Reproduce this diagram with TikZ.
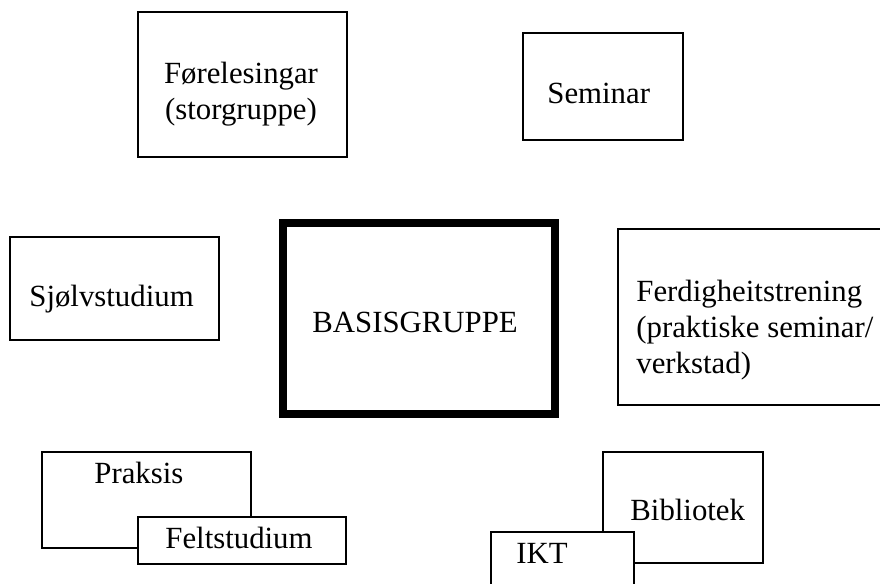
\documentclass[tikz,border=0pt]{standalone}
\usepackage{fontspec}
\setmainfont{Liberation Serif}
\tikzset{
  box/.style={draw=black, line width=0.8pt},
  thickbox/.style={draw=black, line width=4pt},
  lbl/.style={inner sep=0pt, anchor=base west, font=\fontsize{15.4}{18}\selectfont},
}
\begin{document}
\begin{tikzpicture}[x=0.5pt,y=-0.5pt]
  \clip (0,0) rectangle (880,584);
  \fill[white] (0,0) rectangle (880,584);

  % top row
  \draw[box] (138,12) rectangle (347,157);
  \node[lbl, anchor=base, align=center] (forel) at (241,119) {Førelesingar\\(storgruppe)};
  \draw[box] (523,33) rectangle (683,140);
  \node[lbl] (seminar) at (547,103) {Seminar};

  % middle row
  \draw[box] (10,237) rectangle (219,340);
  \node[lbl] (sjolv) at (29,306) {Sjølvstudium};
  \draw[thickbox] (282.5,222.5) rectangle (555,414);
  \node[lbl] (basis) at (312,332) {BASISGRUPPE};
  \draw[box] (618,229) rectangle (890,405);
  \node[lbl, align=left] (ferd) at (636,373) {Ferdigheitstrening\\(praktiske seminar/\\verkstad)};

  % bottom row, overlapping boxes
  \draw[box] (42,452) rectangle (251,548);
  \node[lbl] (praksis) at (94,483) {Praksis};
  \filldraw[box, fill=white] (138,517) rectangle (346,564);
  \node[lbl] (felt) at (165,548) {Feltstudium};

  \draw[box] (603,452) rectangle (763,563);
  \node[lbl] (bibl) at (630,520) {Bibliotek};
  \filldraw[box, fill=white] (491,532) rectangle (634,600);
  \node[lbl] (ikt) at (516,563) {IKT};
\end{tikzpicture}
\end{document}
